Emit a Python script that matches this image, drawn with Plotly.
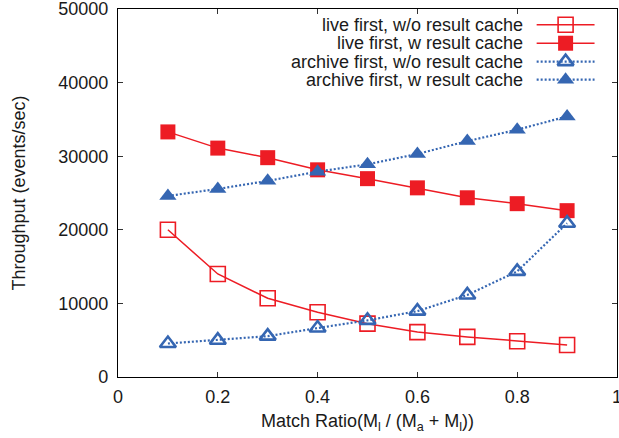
import plotly.graph_objects as go

# ---- data ----
match_ratio = [0.1, 0.2, 0.3, 0.4, 0.5, 0.6, 0.7, 0.8, 0.9]
live_wo_cache = [20000, 14000, 10700, 8800, 7250, 6100, 5450, 4850, 4350]
live_w_cache = [33300, 31100, 29800, 28150, 26950, 25700, 24350, 23550, 22600]
archive_wo_cache = [4550, 5000, 5550, 6650, 7700, 8950, 11150, 14350, 20900]
archive_w_cache = [24600, 25550, 26650, 27900, 28900, 30300, 32050, 33600, 35400]

series_names = [
    "live first, w/o result cache",
    "live first, w result cache",
    "archive first, w/o result cache",
    "archive first, w result cache",
]
x_ticks = [0, 0.2, 0.4, 0.6, 0.8, 1]
x_tick_labels = ["0", "0.2", "0.4", "0.6", "0.8", "1"]
y_ticks = [0, 10000, 20000, 30000, 40000, 50000]
y_tick_labels = ["0", "10000", "20000", "30000", "40000", "50000"]

RED = "#ed1c24"
BLUE = "#3566b2"
FONT = "Liberation Sans, Arial, Helvetica, sans-serif"
FS = 18
TXT = "#1a1a1a"

styles = [
    dict(line=dict(color=RED, width=1.5), marker=dict(symbol="square-open", size=15, color=RED, line=dict(width=1.6, color=RED))),
    dict(line=dict(color=RED, width=1.5), marker=dict(symbol="square", size=15, color=RED, line=dict(width=0))),
    dict(line=dict(color=BLUE, width=2.2, dash="2px,2px"), marker=dict(symbol="triangle-up-open", size=14, color=BLUE, line=dict(width=2.6, color=BLUE))),
    dict(line=dict(color=BLUE, width=2.2, dash="2px,2px"), marker=dict(symbol="triangle-up", size=15, color=BLUE, line=dict(width=0))),
]
series_values = [live_wo_cache, live_w_cache, archive_wo_cache, archive_w_cache]

fig = go.Figure()
for name, vals, st in zip(series_names, series_values, styles):
    fig.add_trace(go.Scatter(x=match_ratio, y=vals, mode="lines+markers", name=name,
                             line=st["line"], marker=st["marker"], showlegend=False,
                             cliponaxis=False))

# ---- custom legend (text right-aligned, sample on the right), on an overlay 0..1 axis ----
legend_rows = [0.957, 0.907, 0.857, 0.808]
legend_text_x = 0.815
legend_line_x = [0.839, 0.955]
legend_mark_x = 0.897
for name, st, ry in zip(series_names, styles, legend_rows):
    fig.add_trace(go.Scatter(x=legend_line_x, y=[ry, ry], mode="lines", line=st["line"],
                             xaxis="x2", yaxis="y2", showlegend=False, hoverinfo="skip"))
    fig.add_trace(go.Scatter(x=[legend_mark_x], y=[ry], mode="markers", marker=st["marker"],
                             xaxis="x2", yaxis="y2", showlegend=False, hoverinfo="skip"))
    fig.add_annotation(x=legend_text_x, y=ry, xref="paper", yref="paper", text=name,
                       showarrow=False, xanchor="right", yanchor="middle",
                       font=dict(family=FONT, size=FS, color=TXT))

axis_common = dict(showgrid=False, zeroline=False, showline=True, linecolor="black",
                   linewidth=1.3, mirror="allticks", ticks="inside", ticklen=5,
                   tickwidth=1, tickcolor="#333", automargin=False,
                   ticklabeloverflow="allow",
                   tickfont=dict(family=FONT, size=FS, color=TXT))

fig.update_layout(
    width=619, height=438,
    margin=dict(l=118, r=1.5, t=8.5, b=61.3),
    paper_bgcolor="white", plot_bgcolor="white",
    font=dict(family=FONT, size=FS, color=TXT),
    xaxis=dict(range=[0, 1], tickvals=x_ticks, ticktext=x_tick_labels, ticklabelstandoff=3,
               title=dict(text="Match Ratio(M<sub>l</sub> / (M<sub>a</sub> + M<sub>l</sub>))", standoff=8,
                          font=dict(family=FONT, size=FS)),
               **axis_common),
    yaxis=dict(range=[0, 50000], tickvals=y_ticks, ticktext=y_tick_labels, ticklabelstandoff=5,
               title=dict(text="Throughput (events/sec)", standoff=27, font=dict(family=FONT, size=FS)),
               **axis_common),
    xaxis2=dict(range=[0, 1], overlaying="x", visible=False, fixedrange=True),
    yaxis2=dict(range=[0, 1], overlaying="y", visible=False, fixedrange=True),
    showlegend=False,
)

fig.write_html("out.html", config={"displayModeBar": False},
               post_script="document.body.style.margin='0';document.body.style.overflow='hidden';")
